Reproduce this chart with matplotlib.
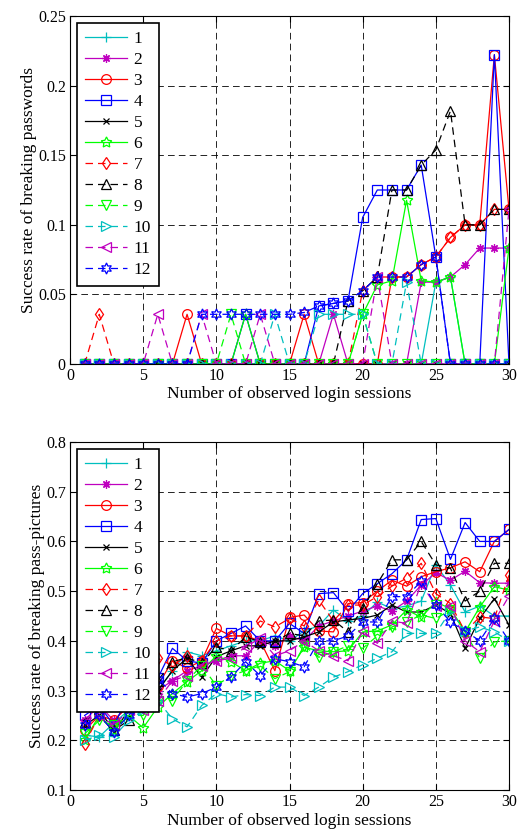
import numpy as np
import matplotlib
matplotlib.use("Agg")
import matplotlib.pyplot as plt

plt.rcParams['font.family'] = ['Liberation Serif', 'DejaVu Serif']

sessions = np.arange(1, 31)
labels = ["1", "2", "3", "4", "5", "6", "7", "8", "9", "10", "11", "12"]

# success rate of breaking passwords (top)
pw1 = [0, 0, 0, 0, 0, 0, 0, 0, 0, 0, 0, 0, 0, 0, 0, 0, 0, 0, 0, 0, 0, 0, 0, 0, 0.0588, 0.0625, 0, 0, 0, 0]
pw2 = [0, 0, 0, 0, 0, 0, 0, 0, 0, 0, 0, 0, 0, 0, 0, 0, 0, 0.0357, 0, 0, 0, 0, 0, 0.0588, 0.0588, 0.0625, 0.0714, 0.0833, 0.0833, 0.0833]
pw3 = [0, 0, 0, 0, 0, 0, 0, 0.0357, 0, 0, 0, 0, 0, 0, 0, 0.0357, 0, 0, 0, 0, 0, 0.0625, 0.0625, 0.0714, 0.0769, 0.0909, 0.1, 0.1, 0.2222, 0.1111]
pw4 = [0, 0, 0, 0, 0, 0, 0, 0, 0, 0, 0, 0.0357, 0, 0, 0, 0, 0.0417, 0.0435, 0.0455, 0.1053, 0.125, 0.125, 0.125, 0.1429, 0.0769, 0, 0, 0, 0.2222, 0]
pw5 = [0] * 30
pw6 = [0, 0, 0, 0, 0, 0, 0, 0, 0, 0, 0, 0.0357, 0, 0, 0, 0, 0, 0, 0, 0.0357, 0.0568, 0.0598, 0.1176, 0.0598, 0.0588, 0.0625, 0, 0, 0, 0.0833]
pw7 = [0, 0.0357, 0, 0, 0, 0, 0, 0, 0, 0, 0, 0, 0, 0, 0, 0, 0, 0, 0, 0.0526, 0.0625, 0.0625, 0.0625, 0.0714, 0.0769, 0.0909, 0.1, 0.1, 0.1111, 0.1111]
pw8 = [0, 0, 0, 0, 0, 0, 0, 0, 0, 0, 0, 0, 0, 0, 0, 0, 0, 0, 0.0455, 0.0526, 0.0625, 0.125, 0.125, 0.1429, 0.1538, 0.1818, 0.1, 0.1, 0.1111, 0.1111]
pw9 = [0, 0, 0, 0, 0, 0, 0, 0, 0, 0, 0.0357, 0, 0, 0, 0, 0, 0, 0, 0, 0.0357, 0, 0, 0, 0, 0, 0, 0, 0, 0, 0]
pw10 = [0, 0, 0, 0, 0, 0, 0, 0, 0, 0, 0, 0, 0, 0.0357, 0, 0, 0.0357, 0.0357, 0.0357, 0.0357, 0, 0, 0.0588, 0, 0, 0, 0, 0, 0, 0]
pw11 = [0, 0, 0, 0, 0, 0.0357, 0, 0, 0.0357, 0, 0, 0, 0.0357, 0, 0, 0, 0, 0, 0, 0, 0.0625, 0, 0, 0, 0, 0, 0, 0, 0, 0.1111]
pw12 = [0, 0, 0, 0, 0, 0, 0, 0, 0.0357, 0.0357, 0.0357, 0.0357, 0.0357, 0.0357, 0.0357, 0.037, 0.0417, 0.0435, 0.0455, 0.0526, 0.0625, 0.0625, 0.0625, 0.0714, 0.0769, 0, 0, 0, 0, 0]

# success rate of breaking pass-pictures (bottom)
pp1 = [0.21, 0.207, 0.235, 0.26, 0.27, 0.30, 0.34, 0.378, 0.37, 0.38, 0.39, 0.40, 0.40, 0.41, 0.40, 0.42, 0.43, 0.462, 0.44, 0.45, 0.478, 0.465, 0.47, 0.48, 0.553, 0.512, 0.458, 0.47, 0.45, 0.45]
pp2 = [0.24, 0.27, 0.24, 0.27, 0.28, 0.30, 0.32, 0.34, 0.35, 0.36, 0.37, 0.37, 0.40, 0.39, 0.41, 0.40, 0.43, 0.44, 0.45, 0.46, 0.47, 0.46, 0.48, 0.512, 0.537, 0.522, 0.54, 0.517, 0.516, 0.516]
pp3 = [0.22, 0.25, 0.24, 0.27, 0.29, 0.31, 0.36, 0.345, 0.36, 0.425, 0.41, 0.41, 0.40, 0.34, 0.447, 0.452, 0.42, 0.418, 0.475, 0.477, 0.50, 0.522, 0.51, 0.529, 0.539, 0.547, 0.559, 0.539, 0.60, 0.624]
pp4 = [0.25, 0.27, 0.23, 0.29, 0.31, 0.325, 0.385, 0.36, 0.355, 0.40, 0.415, 0.43, 0.40, 0.40, 0.435, 0.415, 0.495, 0.497, 0.46, 0.495, 0.515, 0.535, 0.563, 0.644, 0.646, 0.564, 0.638, 0.60, 0.60, 0.624]
pp5 = [0.23, 0.25, 0.217, 0.26, 0.29, 0.30, 0.34, 0.365, 0.327, 0.368, 0.38, 0.39, 0.39, 0.40, 0.40, 0.408, 0.418, 0.438, 0.442, 0.445, 0.452, 0.472, 0.458, 0.458, 0.472, 0.455, 0.385, 0.445, 0.485, 0.432]
pp6 = [0.20, 0.25, 0.22, 0.25, 0.225, 0.267, 0.294, 0.318, 0.34, 0.37, 0.358, 0.34, 0.355, 0.36, 0.34, 0.387, 0.38, 0.378, 0.38, 0.418, 0.42, 0.432, 0.462, 0.448, 0.478, 0.465, 0.418, 0.468, 0.509, 0.502]
pp7 = [0.193, 0.25, 0.27, 0.28, 0.31, 0.365, 0.35, 0.37, 0.36, 0.40, 0.41, 0.41, 0.44, 0.428, 0.445, 0.43, 0.482, 0.44, 0.472, 0.472, 0.489, 0.51, 0.526, 0.556, 0.495, 0.475, 0.418, 0.448, 0.445, 0.532]
pp8 = [0.237, 0.26, 0.22, 0.24, 0.29, 0.32, 0.358, 0.366, 0.355, 0.388, 0.38, 0.408, 0.398, 0.398, 0.415, 0.41, 0.44, 0.442, 0.418, 0.466, 0.515, 0.563, 0.563, 0.60, 0.553, 0.546, 0.48, 0.50, 0.556, 0.556]
pp9 = [0.213, 0.24, 0.23, 0.25, 0.25, 0.28, 0.28, 0.32, 0.35, 0.31, 0.33, 0.34, 0.35, 0.324, 0.338, 0.39, 0.367, 0.378, 0.39, 0.385, 0.41, 0.428, 0.438, 0.452, 0.445, 0.462, 0.418, 0.365, 0.398, 0.40]
pp10 = [0.20, 0.21, 0.207, 0.24, 0.26, 0.28, 0.243, 0.227, 0.27, 0.294, 0.287, 0.292, 0.29, 0.307, 0.307, 0.29, 0.307, 0.327, 0.338, 0.352, 0.365, 0.378, 0.415, 0.415, 0.415, 0.46, 0.42, 0.428, 0.418, 0.40]
pp11 = [0.24, 0.25, 0.23, 0.26, 0.26, 0.28, 0.32, 0.33, 0.35, 0.36, 0.365, 0.388, 0.405, 0.37, 0.38, 0.40, 0.38, 0.37, 0.36, 0.42, 0.395, 0.44, 0.435, 0.515, 0.47, 0.47, 0.40, 0.378, 0.44, 0.49]
pp12 = [0.23, 0.25, 0.217, 0.25, 0.28, 0.324, 0.294, 0.287, 0.294, 0.307, 0.327, 0.358, 0.33, 0.364, 0.358, 0.348, 0.40, 0.40, 0.41, 0.438, 0.438, 0.489, 0.489, 0.52, 0.472, 0.438, 0.42, 0.40, 0.445, 0.40]

pw = [pw1, pw2, pw3, pw4, pw5, pw6, pw7, pw8, pw9, pw10, pw11, pw12]
pp = [pp1, pp2, pp3, pp4, pp5, pp6, pp7, pp8, pp9, pp10, pp11, pp12]

colors = ["c", "m", "r", "b", "k", (0, 1, 0), "r", "k", (0, 1, 0), "c", "m", "b"]
markers = ["+", (8, 2, 0), "o", "s", "x", (5, 1, 0), "d", "^", "v", ">", "<", (6, 1, 0)]
msizes = [7, 6, 7, 7, 4, 8, 6.5, 7.5, 7.5, 7.5, 7.5, 8]
styles = ["-"] * 6 + [(0, (6, 4))] * 6

fig = plt.figure(figsize=(5.19, 8.31), dpi=100)
ax1 = fig.add_axes([70 / 519, 1 - 364 / 831, 439 / 519, 348 / 831])
ax2 = fig.add_axes([70 / 519, 1 - 790 / 831, 439 / 519, 348 / 831])

for ax, data in [(ax1, pw), (ax2, pp)]:
    for i in range(12):
        ax.plot(sessions, data[i], color=colors[i], linestyle=styles[i], linewidth=0.9,
                marker=markers[i], markersize=msizes[i], markerfacecolor="none",
                markeredgecolor=colors[i], markeredgewidth=0.9, label=labels[i])
    ax.set_xlim(0, 30)
    ax.set_xticks(range(0, 31, 5))
    ax.grid(True, color="k", linestyle=(0, (8, 5)), linewidth=0.6)
    ax.tick_params(direction="in", top=True, right=True, labelsize=11.5, length=4, pad=3)
    for sp in ax.spines.values():
        sp.set_linewidth(0.8)
    leg = ax.legend(loc="upper left", bbox_to_anchor=(0.016, 0.981), borderaxespad=0,
                    fontsize=12.5, numpoints=1, handlelength=2.4, handletextpad=0.4,
                    labelspacing=0.28, borderpad=0.45, fancybox=False, framealpha=1)
    leg.get_frame().set_edgecolor("k")
    leg.get_frame().set_linewidth(1.2)

ax1.set_xlabel("Number of observed login sessions", fontsize=12.5, labelpad=1)
ax2.set_xlabel("Number of observed login sessions", fontsize=12.5, labelpad=2)

ax1.set_ylim(0, 0.25)
ax1.set_yticks([0, 0.05, 0.1, 0.15, 0.2, 0.25])
ax1.set_yticklabels(["0", "0.05", "0.1", "0.15", "0.2", "0.25"])
ax1.set_ylabel("Success rate of breaking passwords", fontsize=12.5, labelpad=1)

ax2.set_ylim(0.1, 0.8)
ax2.set_yticks(np.arange(0.1, 0.81, 0.1))
ax2.set_yticklabels(["0.1", "0.2", "0.3", "0.4", "0.5", "0.6", "0.7", "0.8"])
ax2.set_ylabel("Success rate of breaking pass-pictures", fontsize=12.5, labelpad=1)

fig.savefig("out.png", dpi=100)
